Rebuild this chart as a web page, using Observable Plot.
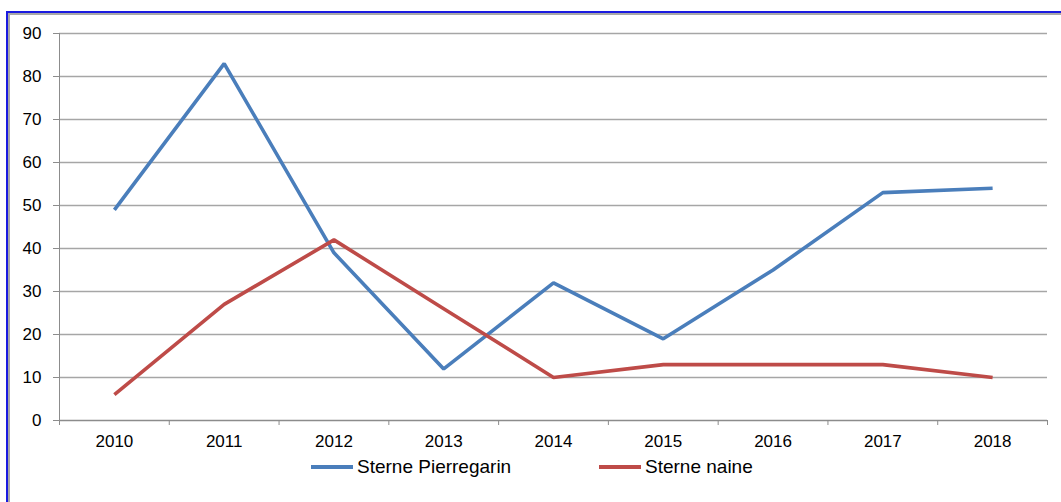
<!DOCTYPE html>
<html>
<head>
<meta charset="utf-8">
<script src="https://cdn.jsdelivr.net/npm/d3@7"></script>
<script src="https://cdn.jsdelivr.net/npm/@observablehq/plot@0.6"></script>
<style>
  html, body { margin: 0; padding: 0; background: #fff; overflow: hidden; width: 1061px; height: 502px; }
  #frame { position: absolute; left: 6px; top: 11px; width: 2000px; height: 2000px; border: 2px solid #1a1ae0; }
  #frame2 { position: absolute; left: 0; top: 0; right: 0; bottom: 0; border: 2px solid #a8a8a8; }
  #chart { position: absolute; left: 0; top: 0; }
  #legend { position: absolute; top: 455px; left: 0; width: 1061px; height: 24px; font-family: "Liberation Sans", Arial, sans-serif; font-size: 19px; color: #000; }
  .item { position: absolute; top: 0; display: flex; align-items: center; height: 24px; }
  .sw { width: 42px; height: 3.5px; margin-right: 4px; }
</style>
</head>
<body>
<div id="frame"><div id="frame2"></div></div>
<div id="chart"></div>
<div id="legend"></div>
<script>
const years = ["2010", "2011", "2012", "2013", "2014", "2015", "2016", "2017", "2018"];
const pierregarin = [49, 83, 39, 12, 32, 19, 35, 53, 54];
const naine = [6, 27, 42, 26, 10, 13, 13, 13, 10];
const seriesNames = ["Sterne Pierregarin", "Sterne naine"];
const seriesColors = ["#4A7EBB", "#BE4B48"];
const yTicks = [0, 10, 20, 30, 40, 50, 60, 70, 80, 90];

const rows = [];
years.forEach((y, i) => {
  rows.push({i, year: y, value: pierregarin[i], series: seriesNames[0]});
  rows.push({i, year: y, value: naine[i], series: seriesNames[1]});
});
const idx = years.map((_, i) => i);
const bounds = d3.range(years.length + 1).map(k => k - 0.5);

const chart = Plot.plot({
  width: 1061,
  height: 502,
  marginLeft: 59,
  marginRight: 14,
  marginTop: 33,
  marginBottom: 82,
  style: {fontFamily: "'Liberation Sans', Arial, sans-serif", fontSize: "17px", color: "#000", background: "transparent"},
  x: {type: "linear", domain: [-0.5, years.length - 0.5]},
  y: {domain: [0, 90]},
  color: {domain: seriesNames, range: seriesColors},
  marks: [
    Plot.gridY(yTicks.filter(t => t > 0), {stroke: "#a6a6a6", strokeOpacity: 1, strokeWidth: 1.3}),
    Plot.axisY(yTicks, {tickSize: 6, tickPadding: 12, stroke: "#8c8c8c", label: null, fontSize: 17, fill: "#000"}),
    Plot.ruleX([-0.5], {stroke: "#8c8c8c"}),
    Plot.ruleY([0], {stroke: "#8c8c8c", strokeWidth: 1.3}),
    Plot.axisX(bounds, {tickSize: 5, tickFormat: () => "", stroke: "#8c8c8c", label: null}),
    Plot.axisX(idx, {tickSize: 0, tickPadding: 14, tickFormat: i => years[i], label: null, fontSize: 17, fill: "#000"}),
    Plot.line(rows, {x: "i", y: "value", z: "series", stroke: "series", strokeWidth: 3.6, strokeLinejoin: "miter", strokeLinecap: "butt"})
  ]
});
document.getElementById("chart").appendChild(chart);

const legend = document.getElementById("legend");
const lefts = [311, 599];
seriesNames.forEach((name, k) => {
  const it = document.createElement("div");
  it.className = "item";
  it.style.left = lefts[k] + "px";
  const sw = document.createElement("div");
  sw.className = "sw";
  sw.style.background = seriesColors[k];
  const tx = document.createElement("span");
  tx.textContent = name;
  it.appendChild(sw);
  it.appendChild(tx);
  legend.appendChild(it);
});
</script>
</body>
</html>
